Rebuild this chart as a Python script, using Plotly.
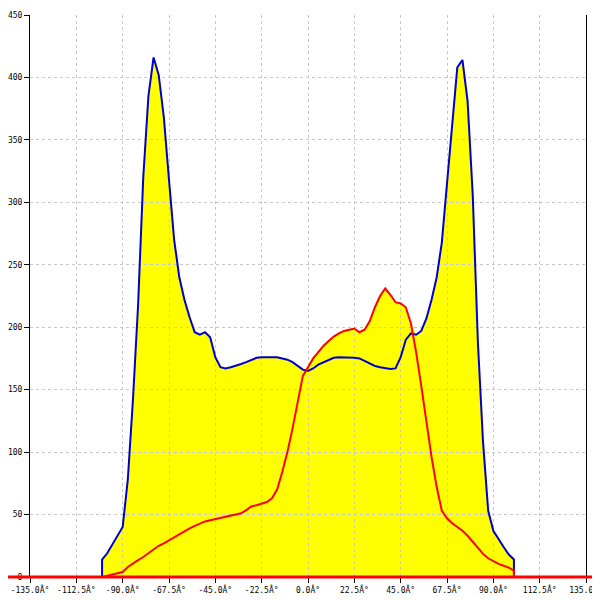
import numpy as np
import plotly.graph_objects as go

# angles (deg), the edges are doubled so both curves drop straight to 0
angles = [-100, -100, -97.5, -95, -92.5, -90, -87.5, -85, -82.5, -80, -77.5, -75, -72.5, -70,
          -67.5, -65, -62.5, -60, -57.5, -55, -52.5, -50, -47.5, -45, -42.5, -40,
          -37.5, -35, -32.5, -30, -27.5, -25, -22.5, -20, -17.5, -15, -12.5, -10,
          -7.5, -5, -2.5, 0, 2.5, 5, 7.5, 10, 12.5, 15, 17.5, 20, 22.5, 25, 27.5,
          30, 32.5, 35, 37.5, 40, 42.5, 45, 47.5, 50, 52.5, 55, 57.5, 60, 62.5,
          65, 67.5, 70, 72.5, 75, 77.5, 80, 82.5, 85, 87.5, 90, 92.5, 95, 97.5, 100, 100]

blue_vals = [0, 14, 19, 26, 32, 40, 78, 142, 218, 320, 385, 416, 402, 368,
             318, 270, 240, 222, 208, 196, 194, 196, 192, 176, 168, 167,
             168, 169, 170.5, 172, 174, 175.5, 176, 176, 176, 176, 175, 174,
             172, 169, 166, 165, 167, 170, 172, 174, 175.5, 176, 176, 176, 175.5, 175, 173,
             171, 169, 168, 167, 166.5, 167, 176, 190, 195, 194, 197, 207, 222, 240,
             268, 315, 364, 408, 414, 381, 306, 188, 108, 53, 37, 30, 24, 18, 14, 0]

red_vals = [0, 0, 1, 2, 3, 4, 8, 11, 13.5, 16, 19, 22, 25, 27,
            29.5, 32, 34.5, 37, 39, 41, 43, 44.5, 45.5, 46.5, 47.5, 48.5,
            49.5, 50, 51, 53.5, 56.5, 57.5, 58.5, 60, 63, 70, 84, 100,
            119, 139, 161, 168, 175, 180, 185, 189, 192.5, 195, 197, 198, 199, 196, 198,
            205, 216, 225, 231, 226, 220, 219, 216, 203, 180, 153, 123, 96, 72,
            53, 47, 43, 40, 37, 33, 28, 23, 18.5, 15, 12.5, 10.5, 9, 7.5, 5, 0]

x_ticks = [-135, -112.5, -90, -67.5, -45, -22.5, 0, 22.5, 45, 67.5, 90, 112.5, 135]
x_labels = ["%.1fÂ°" % t for t in x_ticks]
y_ticks = [0, 50, 100, 150, 200, 250, 300, 350, 400, 450]

tick_font = dict(family="DejaVu Sans Mono", size=8, color="black")

# page body has an 8px margin, so the figure is a bit smaller than the window
W, H = 592, 592
L, R, T, B = 22, 14, 7, 23
plot_w = W - L - R

fig = go.Figure()

# yellow area under both curves (own subplot so the grid of the other one sits on top)
fig.add_trace(go.Scatter(x=angles, y=np.maximum(blue_vals, red_vals), mode="lines",
                         fill="tozeroy", fillcolor="#ffff00", line=dict(width=0),
                         hoverinfo="skip", showlegend=False, xaxis="x", yaxis="y"))

fig.add_trace(go.Scatter(x=angles, y=blue_vals, mode="lines",
                         line=dict(color="#0000cc", width=2), showlegend=False,
                         xaxis="x2", yaxis="y2"))
fig.add_trace(go.Scatter(x=angles, y=red_vals, mode="lines",
                         line=dict(color="#ff0000", width=2), showlegend=False,
                         xaxis="x2", yaxis="y2"))

fig.add_shape(type="line", xref="paper", yref="paper", x0=-L / plot_w, x1=(W - L) / plot_w,
              y0=0, y1=0, line=dict(color="#ff0000", width=3), layer="above")

fig.update_layout(
    width=W, height=H,
    margin=dict(l=L, r=R, t=T, b=B, autoexpand=False),
    paper_bgcolor="white", plot_bgcolor="rgba(0,0,0,0)",
    showlegend=False,
    xaxis=dict(range=[-135, 135], visible=False, domain=[0, 1], automargin=False),
    yaxis=dict(range=[0, 450], visible=False, domain=[0, 1], automargin=False),
    xaxis2=dict(range=[-135, 135], domain=[0, 1], anchor="y2", automargin=False,
                tickvals=x_ticks, ticktext=x_labels, tickfont=tick_font,
                ticklabeloverflow="allow",
                ticks="outside", ticklen=5, tickcolor="black",
                showgrid=True, gridcolor="#c8c8c8", griddash="3px,3px", gridwidth=1,
                showline=True, linecolor="black", linewidth=1,
                zeroline=False),
    yaxis2=dict(range=[0, 450], domain=[0, 1], anchor="x2", automargin=False,
                tickvals=y_ticks, tickfont=tick_font,
                ticks="outside", ticklen=5, tickcolor="black",
                showgrid=True, gridcolor="#c8c8c8", griddash="3px,3px", gridwidth=1,
                showline=True, mirror=True, linecolor="black", linewidth=1,
                zeroline=False),
)

fig.write_html("out.html")
